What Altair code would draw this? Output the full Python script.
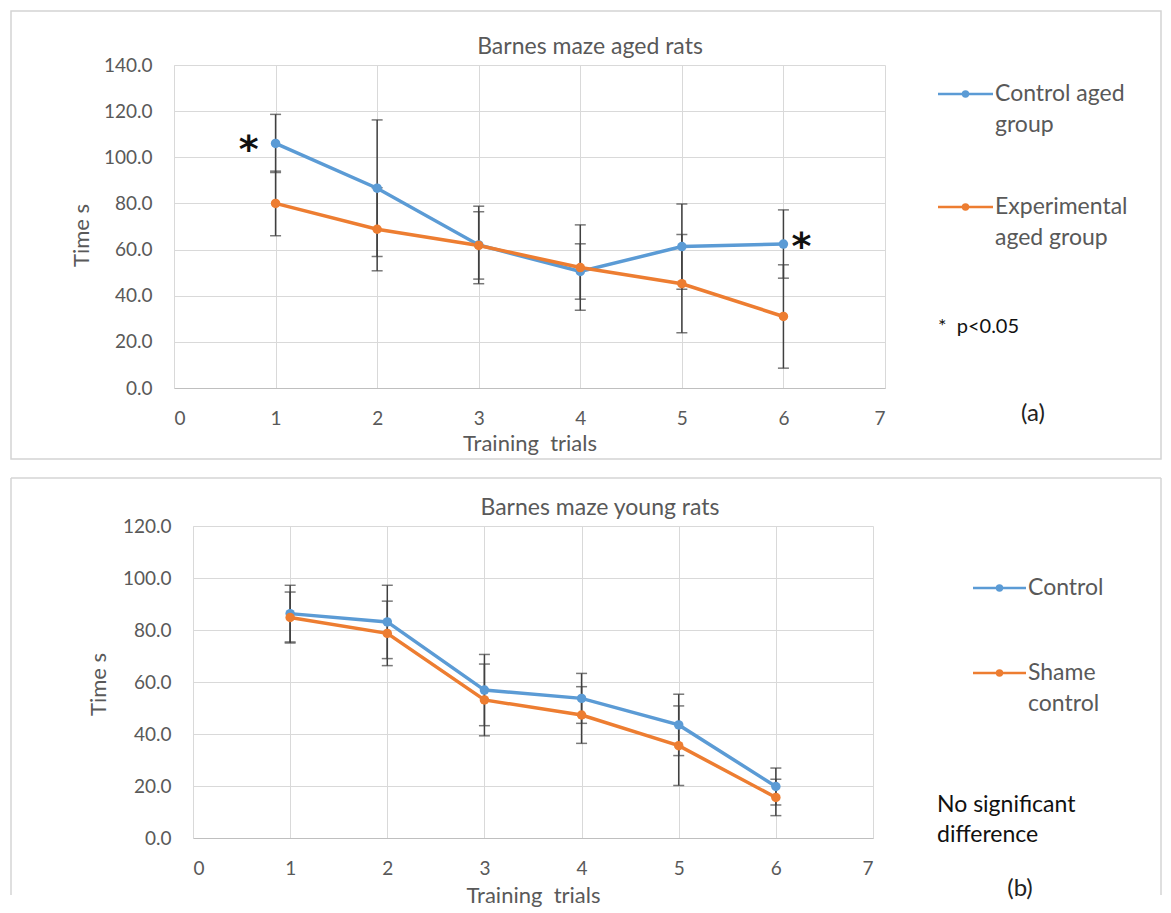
import altair as alt
import pandas as pd

# ---------------- data ----------------
trials = [1, 2, 3, 4, 5, 6]
x_ticks = [0, 1, 2, 3, 4, 5, 6, 7]

aged_series = ["Control aged group", "Experimental aged group"]
aged_legend_lines = [["Control aged", "group"], ["Experimental", "aged group"]]
aged_control_mean = [106.0, 86.6, 62.0, 50.5, 61.3, 62.4]
aged_control_err = [12.6, 29.6, 16.8, 12.0, 18.5, 14.8]
aged_exp_mean = [80.0, 68.8, 61.8, 52.2, 45.2, 31.0]
aged_exp_err = [14.0, 18.0, 14.6, 18.5, 21.3, 22.4]
aged_y_ticks = [0, 20, 40, 60, 80, 100, 120, 140]
aged_sig_trials = [1, 6]

young_series = ["Control", "Shame control"]
young_legend_lines = [["Control"], ["Shame", "control"]]
young_control_mean = [86.3, 83.1, 56.9, 53.7, 43.5, 19.8]
young_control_err = [10.9, 14.1, 13.7, 9.6, 11.8, 7.1]
young_sham_mean = [84.8, 78.7, 53.1, 47.3, 35.5, 15.6]
young_sham_err = [9.8, 12.4, 13.8, 10.9, 15.3, 7.0]
young_y_ticks = [0, 20, 40, 60, 80, 100, 120]

series_colors = ["#5B9BD5", "#ED7D31"]

FONT = "Lato"
GRAY = "#595959"
FS_TICK = 19
FS_TEXT = 23
FS_AXT = 22
NB = "\u00a0"


def make_df(series, means, errs):
    rows = []
    for name, m, e in zip(series, means, errs):
        for t, mv, ev in zip(trials, m, e):
            rows.append({"trial": t, "series": name, "mean": mv, "err": ev,
                         "lo": mv - ev, "hi": mv + ev})
    return pd.DataFrame(rows)


one = pd.DataFrame({"k": [0]})


def txt(s, x, y, fs=FS_TEXT, color=GRAY, align="left", font=FONT, weight="normal"):
    return alt.Chart(one).mark_text(font=font, fontSize=fs, color=color, align=align,
                                    baseline="middle", fontWeight=weight).encode(
        x=alt.value(x), y=alt.value(y), text=alt.value(s))


def panel(df, series, y_ticks, width, height, frame, closed, title, title_pos,
          xtitle_y, ytitle_x, ytitle_y, legend_items, notes, sig=None):
    ymax = y_ticks[-1]
    xaxis = alt.Axis(values=x_ticks, format="d", grid=True, gridColor="#D9D9D9",
                     domainColor="#BFBFBF", ticks=False, tickSize=0, labelPadding=21,
                     labelFont=FONT, labelFontSize=FS_TICK, labelColor=GRAY,
                     titleFont=FONT, titleFontSize=FS_AXT, titleColor=GRAY,
                     titleFontWeight="normal", titleX=width / 2, titleY=xtitle_y,
                     titleAlign="center", titleBaseline="middle")
    yaxis = alt.Axis(values=y_ticks, format=".1f", grid=True, gridColor="#D9D9D9",
                     domainColor="#D9D9D9", ticks=False, tickSize=0, labelPadding=22,
                     labelFont=FONT, labelFontSize=FS_TICK, labelColor=GRAY,
                     titleFont=FONT, titleFontSize=FS_AXT, titleColor=GRAY,
                     titleFontWeight="normal", titleX=ytitle_x, titleY=ytitle_y,
                     titleAngle=270, titleAlign="center", titleBaseline="middle")

    def X():
        return alt.X("trial:Q", scale=alt.Scale(domain=[0, 7], nice=False, zero=False),
                     axis=xaxis, title=f"Training{NB} trials")

    def Y(field):
        return alt.Y(f"{field}:Q", scale=alt.Scale(domain=[0, ymax], nice=False),
                     axis=yaxis, title="Time s")

    color = alt.Color("series:N", scale=alt.Scale(domain=series, range=series_colors),
                      legend=None)

    layers = []
    fx1, fx2, fy1, fy2 = frame
    fc = "#D4D4D4"
    if closed:
        layers.append(alt.Chart(one).mark_rect(fill="transparent", stroke=fc,
                                               strokeWidth=1.5).encode(
            x=alt.value(fx1), x2=alt.value(fx2), y=alt.value(fy1), y2=alt.value(fy2)))
    else:
        layers.append(alt.Chart(one).mark_rule(stroke=fc, strokeWidth=1.5).encode(
            x=alt.value(fx1), x2=alt.value(fx2), y=alt.value(fy1)))
        for xx in (fx1, fx2):
            layers.append(alt.Chart(one).mark_rule(stroke=fc, strokeWidth=1.5).encode(
                x=alt.value(xx), y=alt.value(fy1), y2=alt.value(fy2)))

    layers.append(txt(title, title_pos[0], title_pos[1], align="center"))

    base = alt.Chart(df)
    layers.append(base.mark_rule(color="#404040", strokeWidth=1.5).encode(
        x=X(), y=Y("lo"), y2=alt.Y2("hi:Q")))
    layers.append(base.mark_tick(orient="horizontal", size=11, thickness=1.5,
                                 color="#404040").encode(x=X(), y=Y("lo")))
    layers.append(base.mark_tick(orient="horizontal", size=11, thickness=1.5,
                                 color="#404040").encode(x=X(), y=Y("hi")))
    layers.append(base.mark_line(strokeWidth=3.5).encode(
        x=X(), y=Y("mean"), color=color, detail="series:N"))
    layers.append(base.mark_circle(size=90, opacity=1).encode(
        x=X(), y=Y("mean"), color=color))

    if sig:
        for t, dx, dy in sig:
            layers.append(base.transform_filter(
                (alt.datum.series == series[0]) & (alt.datum.trial == t)
            ).mark_text(text="*", font="DejaVu Sans", fontSize=38, fontWeight="bold",
                        color="#111111", dx=dx, dy=dy, baseline="middle",
                        align="center").encode(x=X(), y=Y("mean")))

    # legend (drawn by hand)
    for col, (lx1, lx2, ly, tx, ty, lines) in zip(series_colors, legend_items):
        layers.append(alt.Chart(one).mark_rule(strokeWidth=2.5).encode(
            x=alt.value(lx1), x2=alt.value(lx2), y=alt.value(ly), color=alt.value(col)))
        layers.append(alt.Chart(one).mark_circle(size=55, opacity=1).encode(
            x=alt.value((lx1 + lx2) / 2), y=alt.value(ly), color=alt.value(col)))
        for i, line in enumerate(lines):
            layers.append(txt(line, tx, ty + 31 * i))

    for (s, nx, ny, al, fs, c) in notes:
        layers.append(txt(s, nx, ny, fs=fs, color=c, align=al))

    return alt.layer(*layers).properties(width=width, height=height)


def spacer():
    return alt.Chart(one).mark_text(text="").encode(
        x=alt.value(0), y=alt.value(0)).properties(width=1, height=1)


df_aged = make_df(aged_series, [aged_control_mean, aged_exp_mean],
                  [aged_control_err, aged_exp_err])
df_young = make_df(young_series, [young_control_mean, young_sham_mean],
                   [young_control_err, young_sham_err])

chart_a = panel(
    df_aged, aged_series, aged_y_ticks, 711, 323,
    frame=(-163, 987, -54, 394), closed=True,
    title="Barnes maze aged rats", title_pos=(416, -18),
    xtitle_y=55, ytitle_x=-93, ytitle_y=170,
    legend_items=[(764, 819, 29, 821, 29, aged_legend_lines[0]),
                  (764, 819, 142, 821, 142, aged_legend_lines[1])],
    notes=[(f"*{NB}{NB}p<0.05", 764, 262, "left", 20, "#111111"),
           ("(a)", 859, 349, "center", 24, "#222222")],
    sig=[(1, -27, 8), (6, 18, 4)])

chart_b = panel(
    df_young, young_series, young_y_ticks, 680, 312,
    frame=(-182, 968, -48, 369), closed=False,
    title="Barnes maze young rats", title_pos=(407, -18),
    xtitle_y=57, ytitle_x=-95, ytitle_y=158,
    legend_items=[(780, 833, 62, 835, 62, young_legend_lines[0]),
                  (780, 833, 147, 835, 147, young_legend_lines[1])],
    notes=[("No significant", 744, 279, "left", FS_TEXT, "#111111"),
           (f"{NB}difference", 744, 309, "left", FS_TEXT, "#111111"),
           ("(b)", 827, 363, "center", 24, "#222222")])

row_a = alt.hconcat(spacer(), chart_a, spacing=0)
row_b = alt.hconcat(spacer(), chart_b, spacing=0)

chart = alt.vconcat(row_a, row_b, spacing=17).properties(
    padding={"left": 1, "top": 2, "right": 0, "bottom": 4}
).configure_view(stroke=None)

chart.save("out.html", embed_options={"renderer": "svg", "actions": False})
